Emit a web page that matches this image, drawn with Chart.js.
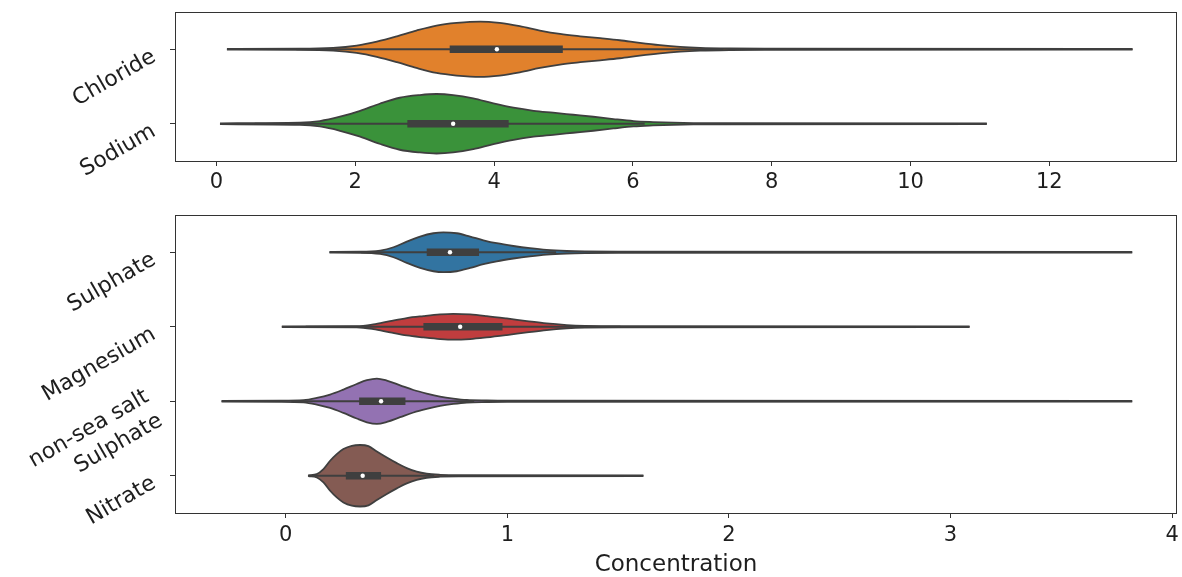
<!DOCTYPE html>
<html>
<head>
<meta charset="utf-8">
<script src="https://cdn.jsdelivr.net/npm/chart.js@4.4.0/dist/chart.umd.min.js"></script>
<style>
html,body{margin:0;padding:0;background:#fff;width:1182px;height:577px;overflow:hidden}
.wrap{position:absolute;left:0;width:1182px}
#w1{top:0;height:200px}
#w2{top:180px;height:397px}
</style>
</head>
<body>
<div id="w1" class="wrap"><canvas id="c1" width="1182" height="200"></canvas></div>
<div id="w2" class="wrap"><canvas id="c2" width="1182" height="397"></canvas></div>
<script>
// ---------- categories & ticks ----------
const topCategories = ['Chloride', 'Sodium'];
const bottomCategories = ['Sulphate', 'Magnesium', ['non-sea salt', 'Sulphate'], 'Nitrate'];
const topTicks = [0, 2, 4, 6, 8, 10, 12];
const bottomTicks = [0, 1, 2, 3, 4];
const topLimits = [-0.598, 13.84];
const bottomLimits = [-0.50, 4.022];
const xLabel = 'Concentration';

// ---------- violin outlines: concentration positions and half-widths (category units) ----------
const chlorideX = [0.15, 1.2, 1.68, 2.02, 2.31, 2.60, 2.88, 3.17, 3.46, 3.80, 4.08, 4.37, 4.66, 4.95, 5.24, 5.53, 5.81, 6.10, 6.39, 6.68, 6.97, 7.4, 7.9, 13.2];
const chlorideW = [0.006, 0.007, 0.018, 0.050, 0.103, 0.174, 0.251, 0.318, 0.353, 0.372, 0.353, 0.309, 0.251, 0.205, 0.174, 0.148, 0.121, 0.085, 0.054, 0.031, 0.018, 0.010, 0.007, 0.006];

const sodiumX = [0.05, 1.20, 1.49, 1.78, 2.07, 2.36, 2.64, 2.93, 3.17, 3.41, 3.70, 3.99, 4.28, 4.57, 4.85, 5.14, 5.43, 5.72, 6.01, 6.29, 6.58, 6.87, 7.3, 11.1];
const sodiumW = [0.006, 0.014, 0.036, 0.094, 0.174, 0.272, 0.349, 0.385, 0.399, 0.385, 0.340, 0.272, 0.215, 0.174, 0.148, 0.121, 0.094, 0.063, 0.036, 0.023, 0.014, 0.009, 0.007, 0.006];

const sulphateX = [0.197, 0.335, 0.426, 0.486, 0.546, 0.606, 0.666, 0.711, 0.772, 0.832, 0.892, 0.952, 1.027, 1.102, 1.177, 1.268, 1.35, 1.5, 3.82];
const sulphateW = [0.006, 0.007, 0.023, 0.067, 0.143, 0.210, 0.255, 0.268, 0.255, 0.210, 0.161, 0.121, 0.084, 0.054, 0.031, 0.017, 0.011, 0.007, 0.006];

const magnesiumX = [-0.018, 0.32, 0.395, 0.471, 0.546, 0.621, 0.696, 0.756, 0.832, 0.907, 0.997, 1.088, 1.177, 1.268, 1.35, 1.5, 3.086];
const magnesiumW = [0.006, 0.007, 0.031, 0.076, 0.117, 0.143, 0.165, 0.174, 0.165, 0.143, 0.111, 0.076, 0.044, 0.023, 0.013, 0.007, 0.006];

const nssSulphateX = [-0.29, -0.026, 0.08, 0.14, 0.20, 0.26, 0.32, 0.366, 0.411, 0.456, 0.516, 0.576, 0.636, 0.696, 0.756, 0.817, 0.907, 1.0, 3.82];
const nssSulphateW = [0.006, 0.007, 0.014, 0.044, 0.090, 0.157, 0.232, 0.282, 0.304, 0.277, 0.214, 0.151, 0.103, 0.063, 0.036, 0.017, 0.010, 0.007, 0.006];

const nitrateX = [0.102, 0.14, 0.17, 0.20, 0.23, 0.26, 0.298, 0.335, 0.373, 0.411, 0.456, 0.501, 0.546, 0.591, 0.636, 0.696, 0.78, 1.614];
const nitrateW = [0.006, 0.023, 0.090, 0.201, 0.291, 0.358, 0.402, 0.413, 0.398, 0.326, 0.245, 0.170, 0.103, 0.054, 0.027, 0.013, 0.007, 0.006];

// ---------- inner box statistics ----------
const topQ1 = [3.36, 2.75];
const topMedian = [4.04, 3.41];
const topQ3 = [4.99, 4.21];
const topWhiskerLo = [1.15, 0.55];
const topWhiskerHi = [7.3, 6.17];

const bottomQ1 = [0.636, 0.621, 0.331, 0.271];
const bottomMedian = [0.741, 0.787, 0.430, 0.347];
const bottomQ3 = [0.872, 0.978, 0.540, 0.430];
const bottomWhiskerLo = [0.34, 0.09, 0.025, 0.10];
const bottomWhiskerHi = [1.22, 1.51, 0.85, 0.67];

// ---------- colours ----------
const topColors = ['#e1812c', '#3a923a'];
const bottomColors = ['#3274a1', '#c03d3e', '#9372b2', '#845b53'];
const EDGE = '#3f3f3f';
const TEXT = '#1e1e1e';
const FONT = "'DejaVu Sans', sans-serif";

function violin(xs, ws, idx, color) {
  const upper = xs.map((x, i) => ({x: x, y: idx - ws[i]}));
  const lower = xs.map((x, i) => ({x: x, y: idx + ws[i]}));
  const common = {borderColor: EDGE, borderWidth: 1.8, pointRadius: 0, cubicInterpolationMode: 'monotone', order: 3};
  return [
    Object.assign({data: upper, backgroundColor: color, fill: '+1'}, common),
    Object.assign({data: lower, fill: false}, common)
  ];
}

function boxes(q1, med, q3, lo, hi) {
  const out = [];
  q1.forEach((_, i) => {
    out.push({data: [{x: lo[i], y: i}, {x: hi[i], y: i}], borderColor: EDGE, borderWidth: 1.8, pointRadius: 0, fill: false, order: 2});
    out.push({data: [{x: q1[i], y: i}, {x: q3[i], y: i}], borderColor: EDGE, borderWidth: 7.5, borderCapStyle: 'butt', pointRadius: 0, fill: false, order: 1});
    out.push({data: [{x: med[i], y: i}], showLine: false, pointRadius: 2.2, pointBorderWidth: 0, pointBackgroundColor: '#ffffff', order: 0});
  });
  return out;
}

const framePlugin = {
  id: 'frame',
  afterDraw(chart) {
    const a = chart.chartArea, ctx = chart.ctx;
    ctx.save();
    ctx.strokeStyle = '#333333';
    ctx.lineWidth = 1;
    const x0 = Math.round(a.left) + 0.5, x1 = Math.round(a.right) - 0.5;
    const y0 = Math.round(a.top) + 0.5, y1 = Math.round(a.bottom) + 0.5;
    ctx.strokeRect(x0, y0, x1 - x0, y1 - y0);
    ctx.restore();
  }
};

function makeChart(canvasId, datasets, cats, ticks, limits, opts) {
  return new Chart(document.getElementById(canvasId), {
    type: 'line',
    data: {datasets: datasets},
    plugins: [framePlugin],
    options: {
      responsive: false,
      animation: false,
      devicePixelRatio: 1,
      events: [],
      layout: {padding: {top: opts.padTop, right: 5, bottom: 0, left: 0}},
      plugins: {
        legend: {display: false},
        tooltip: {enabled: false},
        filler: {drawTime: 'beforeDatasetsDraw', propagate: false}
      },
      scales: {
        x: {
          type: 'linear',
          min: limits[0],
          max: limits[1],
          afterBuildTicks: s => { s.ticks = ticks.map(v => ({value: v})); },
          afterFit: s => { s.height = opts.xHeight; s.paddingLeft = 0; s.paddingRight = 0; },
          grid: {drawOnChartArea: false, drawTicks: true, tickLength: 5, tickColor: '#333333', tickWidth: 1},
          border: {display: false},
          ticks: {font: {family: FONT, size: 21}, color: TEXT, padding: opts.xPad, maxRotation: 0, autoSkip: false,
                  callback: v => String(v)},
          title: opts.title ? {display: true, text: opts.title, color: TEXT,
                  font: {family: FONT, size: 23, lineHeight: 1}, padding: {top: 0, bottom: 0}} : {display: false}
        },
        y: {
          type: 'linear',
          min: -0.5,
          max: cats.length - 0.5,
          reverse: true,
          afterBuildTicks: s => { s.ticks = cats.map((c, i) => ({value: i})); },
          afterFit: s => { s.width = 175; s.paddingTop = 0; s.paddingBottom = 0; },
          grid: {drawOnChartArea: false, drawTicks: true, tickLength: 5, tickColor: '#333333', tickWidth: 1},
          border: {display: false},
          ticks: {font: {family: FONT, size: 22, lineHeight: 1.25}, color: TEXT, padding: 16, minRotation: 30, maxRotation: 30,
                  labelOffset: 6, autoSkip: false, callback: v => cats[v]}
        }
      }
    }
  });
}

const topSets = [].concat(
  violin(chlorideX, chlorideW, 0, topColors[0]),
  violin(sodiumX, sodiumW, 1, topColors[1]),
  boxes(topQ1, topMedian, topQ3, topWhiskerLo, topWhiskerHi)
);
const bottomSets = [].concat(
  violin(sulphateX, sulphateW, 0, bottomColors[0]),
  violin(magnesiumX, magnesiumW, 1, bottomColors[1]),
  violin(nssSulphateX, nssSulphateW, 2, bottomColors[2]),
  violin(nitrateX, nitrateW, 3, bottomColors[3]),
  boxes(bottomQ1, bottomMedian, bottomQ3, bottomWhiskerLo, bottomWhiskerHi)
);

makeChart('c1', topSets, topCategories, topTicks, topLimits, {padTop: 12, xHeight: 39, xPad: 4});
makeChart('c2', bottomSets, bottomCategories, bottomTicks, bottomLimits, {padTop: 35, xHeight: 64, xPad: 5, title: xLabel});
</script>
</body>
</html>
